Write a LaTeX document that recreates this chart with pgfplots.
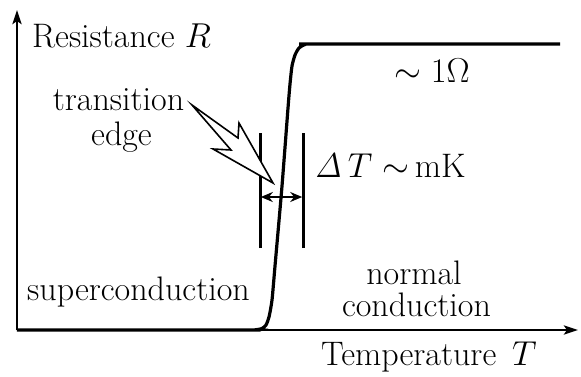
\documentclass[border=0pt]{standalone}
\usepackage{pgfplots}
\pgfplotsset{compat=1.18}
\usetikzlibrary{arrows.meta}
\begin{document}
\begin{tikzpicture}[lab/.style={font=\fontsize{17}{20}\selectfont, inner sep=0pt, anchor=base}]
\begin{axis}[
  scale only axis, width=280.5pt, height=160pt,
  xmin=17, xmax=578, ymin=46, ymax=366,
  axis lines=left,
  axis line style={line width=1.4pt, -{Stealth[length=7pt,width=4.5pt,inset=1.5pt]}},
  xtick=\empty, ytick=\empty,
  clip=false,
]
\path (axis cs:0,0) rectangle (axis cs:581,376);
% R(T) curve
\addplot[line width=1.6pt, smooth, tension=0.4, mark=none] coordinates {
(17,46) (245,46) (256,46.3) (262,47.5) (266,51) (269,59) (272,76) (275,110) (282,190) (288,268) (290,292) (292,310) (295,321) (299,328) (305,331.5) (314,332) (560,332)
};
% width bars
\addplot[line width=1.5pt, mark=none] coordinates {(260,128) (260,243)};
\addplot[line width=1.5pt, mark=none] coordinates {(303,128) (303,243)};
\addplot[line width=1.2pt, mark=none, {Stealth[length=6pt,width=5pt]}-{Stealth[length=6pt,width=5pt]}] coordinates {(260.8,179) (302.2,179)};
% lightning arrow
\addplot[line width=0.8pt, draw=black, fill=white, mark=none, line join=miter] coordinates {
(192,271) (238,238) (239,253) (273,193) (213,227) (231,226) (192,271)
} -- cycle;
% labels
\node[lab] at (axis cs:121.5,329) {Resistance $R$};
\node[lab] at (axis cs:118.5,266) {transition};
\node[lab] at (axis cs:121.5,231) {edge};
\node[lab] at (axis cs:390,199) {$\mathit{\Delta}\,T\sim\,$mK};
\node[lab] at (axis cs:432,294) {$\sim 1\Omega$};
\node[lab] at (axis cs:138.5,76) {superconduction};
\node[lab] at (axis cs:414,92) {normal};
\node[lab] at (axis cs:416.5,60) {conduction};
\node[lab] at (axis cs:429,11) {Temperature \,$T$};
\end{axis}
\end{tikzpicture}
\end{document}
